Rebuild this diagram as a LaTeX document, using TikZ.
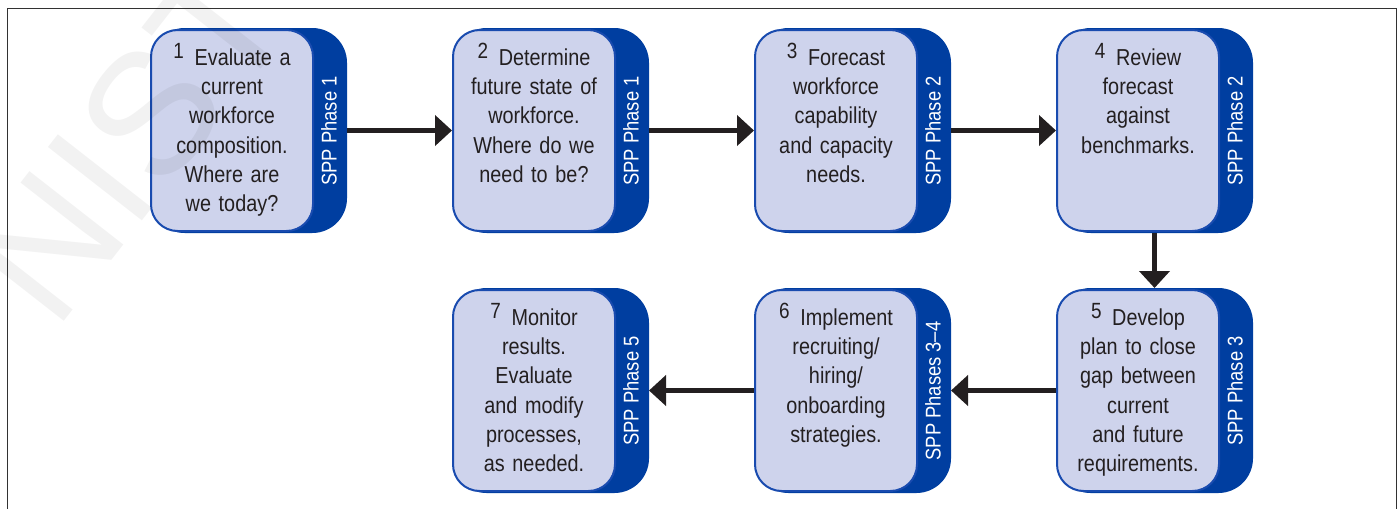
\documentclass[tikz,border=0pt]{standalone}
\usepackage{fontspec}
\setmainfont{Liberation Sans}[FakeStretch=0.86]
\newfontfamily\wmfont{Liberation Sans}
\usetikzlibrary{arrows.meta}
\definecolor{tabblue}{RGB}{0,62,160}
\definecolor{boxfill}{RGB}{206,211,236}
\definecolor{boxline}{RGB}{25,75,175}
\definecolor{txt}{RGB}{35,31,32}
\definecolor{framegray}{RGB}{50,50,50}
\tikzset{
  tabshape/.style={fill=tabblue, draw=none, rounded corners=26pt, minimum width=147.75pt, minimum height=153.75pt, inner sep=0pt, outer sep=0pt, anchor=north west},
  lightbox/.style={fill=boxfill, draw=boxline, line width=1.5pt, rounded corners=20pt, minimum width=121.5pt, minimum height=150.75pt, inner sep=0pt, outer sep=0pt, anchor=north west},
  boxtext/.style={text=txt, inner sep=0pt, anchor=north, text width=120pt, align=center, font=\fontsize{17.3pt}{22pt}\selectfont},
  tabtext/.style={text=white, inner sep=0pt, rotate=90, font=\fontsize{16pt}{18pt}\selectfont},
  conn/.style={draw=txt, line width=4pt, -{Triangle[length=12.75pt,width=22.5pt]}},
  frameline/.style={draw=framegray, line width=1.1pt}
}
\newcommand\flowbox[6]{%
  \node[tabshape] (#1) at ({#2},{#3}) {};
  \node[lightbox] (#1l) at ({#2+1},{#3+2}) {};
  \node[boxtext] (#1x) at ({#2+82},{#3+15}) {\raisebox{5pt}{\fontsize{16.5pt}{16.5pt}\selectfont #4}\hspace{8pt}#5};
  \node[tabtext] (#1t) at ({#2+179},{#3+103}) {#6};
}
\begin{document}
\begin{tikzpicture}[x=0.75pt,y=-0.75pt]
\useasboundingbox (0,0) rectangle (1399,508);
\draw[frameline] (7.5,510) -- (7.5,8.5) -- (1396.5,8.5) -- (1396.5,510);
\flowbox{b1}{150}{28}{1}{Evaluate a\\current\\workforce\\composition.\\Where are\\we today?}{SPP Phase 1}
\flowbox{b2}{452}{28}{2}{Determine\\future state of\\workforce.\\Where do we\\need to be?}{SPP Phase 1}
\flowbox{b3}{754}{28}{3}{Forecast\\workforce\\capability\\and capacity\\needs.}{SPP Phase 2}
\flowbox{b4}{1056}{28}{4}{Review\\forecast\\against\\benchmarks.}{SPP Phase 2}
\flowbox{b5}{1056}{288}{5}{Develop\\plan to close\\gap between\\current\\and future\\requirements.}{SPP Phase 3}
\flowbox{b6}{754}{288}{6}{Implement\\recruiting/\\hiring/\\onboarding\\strategies.}{SPP Phases 3–4}
\flowbox{b7}{452}{288}{7}{Monitor\\results.\\Evaluate\\and modify\\processes,\\as needed.}{SPP Phase 5}
\draw[conn] (b1.east) -- (b2.west);
\draw[conn] (b2.east) -- (b3.west);
\draw[conn] (b3.east) -- (b4.west);
\draw[conn] (b4.south) -- (b5.north);
\draw[conn] (b5.west) -- (b6.east);
\draw[conn] (b6.west) -- (b7.east);
\begin{scope}
\clip (0,0) rectangle (1399,508);
\node[text=black, opacity=0.05, rotate=52, inner sep=0pt, font=\wmfont\fontsize{130pt}{130pt}\selectfont] (wm) at (130,140) {NIST};
\end{scope}
\end{tikzpicture}
\end{document}
